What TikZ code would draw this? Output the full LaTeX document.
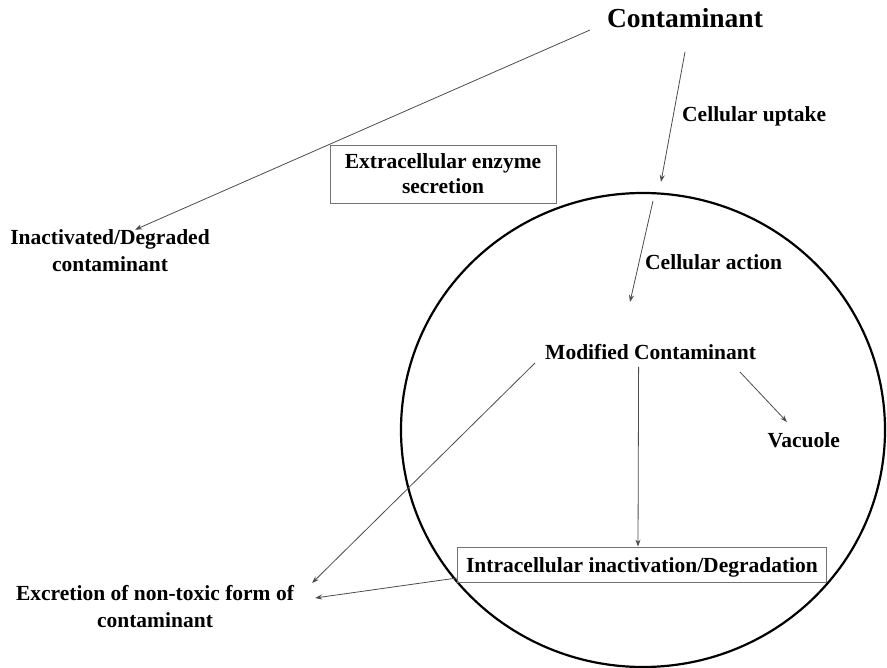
\documentclass[tikz,border=0pt]{standalone}
\usepackage{fontspec}
\setmainfont{Liberation Serif}
\usetikzlibrary{arrows.meta,shapes.geometric}
\begin{document}
\begin{tikzpicture}[x=1pt,y=-1pt,
  label/.style={inner sep=0pt,font=\bfseries\fontsize{21.5}{27}\selectfont,text=black},
  titlelabel/.style={inner sep=0pt,font=\bfseries\fontsize{27.5}{33}\selectfont,text=black},
  boxed/.style={draw=black!55,line width=0.8pt},
  arr/.style={draw=black!70,line width=0.8pt,-{Stealth[length=7pt,width=5pt]}},
  cellwall/.style={draw=black,line width=2.2pt,ellipse,minimum width=484pt,minimum height=474pt,inner sep=0pt}]
\useasboundingbox (0,0) rectangle (887,668);

% the cell
\node[cellwall] (cell) at (643,430) {};

% labels
\node[titlelabel,anchor=base] (cont) at (685,28) {Contaminant};
\node[label,anchor=base west] (uptake) at (682,122) {Cellular uptake};
\node[label,boxed,align=center,minimum width=226pt,minimum height=58pt,
      font=\bfseries\fontsize{21.5}{25}\selectfont] (extra) at (443,174)
      {Extracellular enzyme\\secretion};
\node[label,align=center] (inact) at (110,251) {Inactivated/Degraded\\contaminant};
\node[label,anchor=base west] (action) at (645,270) {Cellular action};
\node[label,anchor=base west] (mod) at (545,360) {Modified Contaminant};
\node[label,anchor=base east] (vac) at (840,447) {Vacuole};
\node[label,boxed,anchor=base,text height=15pt,text depth=0pt,inner xsep=9pt,inner ysep=10pt]
      (intra) at (642,572) {Intracellular inactivation/Degradation};
\node[label,align=center] (excr) at (155,607) {Excretion of non-toxic form of\\contaminant};

% connectors
\draw[arr] ([xshift=-95pt,yshift=-2pt]cont.base) -- ([xshift=25pt]inact.north);
\draw[arr] ([yshift=-24pt]cont.base) -- ([xshift=18pt,yshift=10pt]cell.north);
\draw[arr] ([xshift=10pt,yshift=-9pt]cell.north) -- ([xshift=85pt,yshift=58pt]mod.base west);
\draw[arr] ([xshift=-10pt,yshift=-3pt]mod.base west) -- ([xshift=18pt,yshift=24pt]excr.east);
\draw[arr] ([xshift=-12pt,yshift=-7pt]mod.base) -- ([xshift=-4pt]intra.north);
\draw[arr] ([xshift=195pt,yshift=-12pt]mod.base west) -- ([xshift=-53pt,yshift=25pt]vac.base east);
\draw[arr] ([yshift=-13.5pt]intra.west) -- ([xshift=21pt,yshift=9pt]excr.east);
\end{tikzpicture}
\end{document}
